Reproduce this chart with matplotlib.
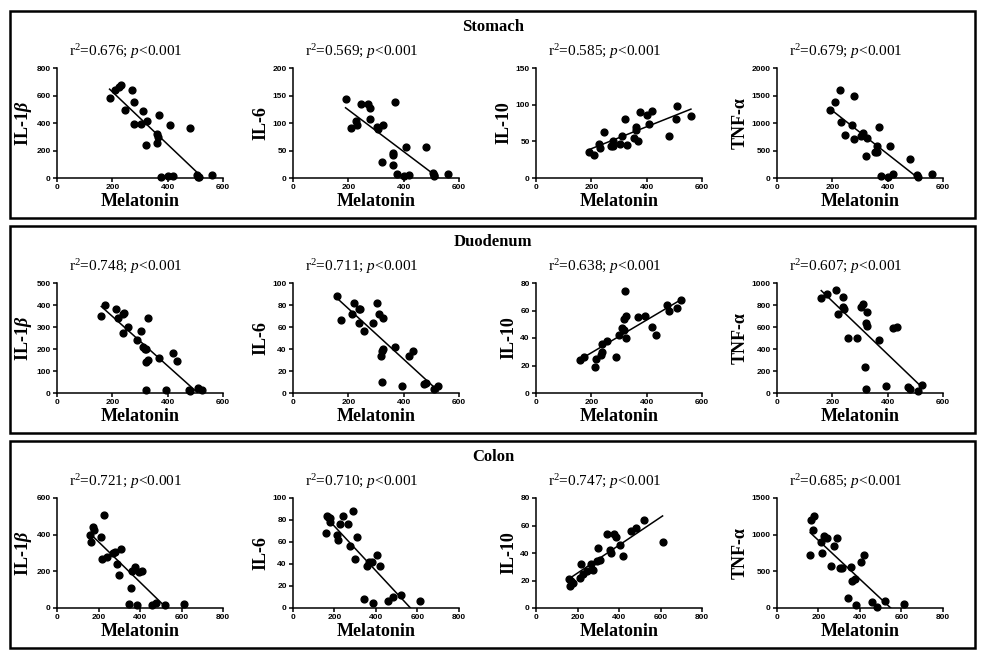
import matplotlib.pyplot as plt
from matplotlib.patches import Rectangle
import numpy as np

plt.rcParams.update({'mathtext.fontset': 'custom',
                     'mathtext.rm': 'Liberation Serif',
                     'mathtext.it': 'Liberation Serif:italic',
                     'mathtext.bf': 'Liberation Serif:bold',
                     'mathtext.bfit': 'Liberation Serif:bold:italic'})

sections = ['Stomach', 'Duodenum', 'Colon']
markers = ['IL-1$\\mathbfit{\\beta}$', 'IL-6', 'IL-10', 'TNF-α']
r2 = [['0.676', '0.569', '0.585', '0.679'],
      ['0.748', '0.711', '0.638', '0.607'],
      ['0.721', '0.710', '0.747', '0.685']]

# stomach
st_x1 = [190, 210, 225, 232, 270, 280, 245, 280, 310, 305, 325, 320, 360, 365, 360, 370, 410, 480, 375, 400, 420, 505, 510, 515, 560]
st_y1 = [585, 640, 665, 675, 640, 555, 495, 395, 485, 395, 415, 240, 320, 300, 255, 455, 385, 365, 10, 15, 12, 25, 10, 5, 20]
st_x2 = [190, 210, 228, 230, 245, 270, 280, 280, 305, 308, 325, 320, 360, 362, 360, 370, 375, 410, 400, 420, 480, 505, 508, 510, 560]
st_y2 = [143, 91, 104, 97, 134, 135, 127, 107, 93, 89, 97, 30, 42, 45, 24, 139, 7, 57, 3, 5, 57, 10, 5, 3, 7]
st_x3 = [190, 210, 228, 230, 245, 270, 280, 280, 305, 310, 320, 328, 355, 360, 362, 370, 375, 400, 410, 420, 480, 505, 510, 560]
st_y3 = [35, 31, 47, 41, 63, 44, 50, 44, 47, 57, 80, 45, 54, 69, 65, 50, 90, 86, 74, 92, 57, 81, 98, 84]
st_x4 = [190, 210, 228, 230, 245, 270, 280, 280, 305, 310, 325, 320, 355, 360, 360, 370, 375, 400, 410, 420, 480, 505, 510, 560]
st_y4 = [1230, 1390, 1600, 1010, 790, 960, 710, 1500, 760, 820, 720, 400, 480, 590, 470, 930, 30, 20, 590, 70, 350, 50, 20, 80]

# duodenum
du_x1 = [160, 175, 215, 220, 238, 242, 240, 255, 290, 305, 310, 318, 320, 322, 328, 328, 320, 370, 395, 420, 435, 478, 480, 510, 525]
du_y1 = [350, 400, 380, 340, 360, 365, 275, 300, 240, 280, 210, 200, 140, 200, 150, 340, 15, 160, 15, 180, 145, 15, 10, 25, 12]
du_x2 = [160, 175, 215, 220, 238, 242, 240, 255, 290, 305, 310, 325, 318, 320, 325, 320, 370, 395, 420, 435, 475, 480, 510, 525]
du_y2 = [88, 66, 72, 82, 76, 76, 64, 56, 64, 82, 72, 68, 34, 38, 40, 10, 42, 6, 34, 38, 8, 9, 4, 6]
du_x3 = [160, 175, 215, 218, 235, 240, 240, 255, 290, 300, 310, 318, 318, 320, 325, 325, 370, 395, 420, 435, 475, 480, 510, 525]
du_y3 = [24, 26, 19, 25, 28, 30, 36, 38, 26, 42, 47, 46, 54, 74, 56, 40, 55, 56, 48, 42, 64, 60, 62, 68]
du_x4 = [160, 180, 215, 220, 238, 240, 242, 255, 290, 305, 310, 320, 325, 325, 318, 320, 370, 395, 420, 435, 475, 480, 510, 525]
du_y4 = [860, 900, 940, 720, 780, 870, 760, 500, 500, 780, 810, 640, 740, 610, 240, 35, 480, 65, 590, 600, 55, 40, 20, 70]

# colon
co_x1 = [160, 165, 175, 180, 210, 215, 225, 240, 270, 280, 290, 300, 310, 345, 355, 360, 375, 385, 395, 410, 460, 475, 520, 610]
co_y1 = [400, 360, 440, 425, 390, 270, 510, 280, 300, 305, 240, 180, 320, 20, 110, 200, 225, 15, 195, 200, 15, 30, 15, 20]
co_x2 = [160, 165, 170, 178, 180, 210, 215, 225, 240, 265, 275, 290, 300, 310, 340, 355, 365, 380, 385, 405, 420, 460, 480, 520, 610]
co_y2 = [68, 84, 83, 82, 78, 66, 62, 76, 84, 76, 56, 88, 45, 65, 8, 38, 42, 42, 5, 48, 38, 6, 10, 12, 6]
co_x3 = [160, 165, 170, 180, 210, 215, 225, 245, 265, 275, 295, 300, 310, 340, 355, 360, 375, 385, 405, 420, 460, 480, 520, 610]
co_y3 = [21, 16, 20, 18, 22, 32, 25, 27, 32, 28, 34, 44, 35, 54, 42, 40, 54, 52, 46, 38, 56, 58, 64, 48]
co_x4 = [160, 165, 175, 180, 210, 215, 225, 240, 260, 275, 290, 305, 315, 340, 355, 360, 375, 380, 405, 420, 460, 480, 520, 610]
co_y4 = [720, 1200, 1070, 1250, 900, 750, 980, 960, 570, 850, 960, 540, 540, 140, 560, 370, 390, 40, 630, 720, 80, 20, 90, 60]

data = [[(st_x1, st_y1), (st_x2, st_y2), (st_x3, st_y3), (st_x4, st_y4)],
        [(du_x1, du_y1), (du_x2, du_y2), (du_x3, du_y3), (du_x4, du_y4)],
        [(co_x1, co_y1), (co_x2, co_y2), (co_x3, co_y3), (co_x4, co_y4)]]

ymax = [[800, 200, 150, 2000], [500, 100, 80, 1000], [600, 100, 80, 1500]]
ystep = [[200, 50, 50, 500], [100, 20, 20, 200], [200, 20, 20, 500]]
xmax = [600, 600, 800]

W, H = 987, 660
fig = plt.figure(figsize=(W / 100, H / 100), dpi=100)

lefts = [57, 293, 536, 777]
tops = [68, 283, 498]
aw, ah = 166, 110
box_tops = [11, 226, 441]
box_h = 207
title_y = [27, 242, 457]

for r in range(3):
    fig.patches.append(Rectangle((10 / W, 1 - (box_tops[r] + box_h) / H), 965 / W, box_h / H,
                                 transform=fig.transFigure, fill=False, lw=1.8, ec='black'))
    fig.text(493 / W, 1 - title_y[r] / H, sections[r], ha='center', va='center',
             family='Liberation Serif', fontweight='bold', fontsize=12)
    for c in range(4):
        ax = fig.add_axes([lefts[c] / W, 1 - (tops[r] + ah) / H, aw / W, ah / H])
        x, y = np.array(data[r][c][0]), np.array(data[r][c][1])
        ax.scatter(x, y, s=24, color='black', zorder=3, clip_on=False)
        k, b = np.polyfit(x, y, 1)
        xs = np.array([x.min(), x.max()])
        ax.plot(xs, k * xs + b, color='black', lw=1.1)
        ax.set_xlim(0, xmax[r])
        ax.set_ylim(0, ymax[r][c])
        ax.set_xticks(np.arange(0, xmax[r] + 1, 200))
        ax.set_yticks(np.arange(0, ymax[r][c] + 1, ystep[r][c]))
        for s in ['top', 'right']:
            ax.spines[s].set_visible(False)
        for s in ['left', 'bottom']:
            ax.spines[s].set_linewidth(1.1)
        ax.tick_params(length=3, width=1.1, labelsize=6, pad=1.5)
        for t in ax.get_xticklabels() + ax.get_yticklabels():
            t.set_family('Liberation Sans')
            t.set_fontweight('bold')
        ax.set_xlabel('Melatonin', family='Liberation Serif', fontweight='bold',
                      fontsize=13, labelpad=1)
        ax.set_ylabel(markers[c], family='Liberation Serif', fontweight='bold',
                      fontsize=13, labelpad=2)
        ax.text(0.07, 1.06, 'r$^2$=' + r2[r][c] + '; $p$<0.001', transform=ax.transAxes,
                ha='left', va='bottom', family='Liberation Serif', fontsize=11)

fig.savefig('out.png', dpi=100)
